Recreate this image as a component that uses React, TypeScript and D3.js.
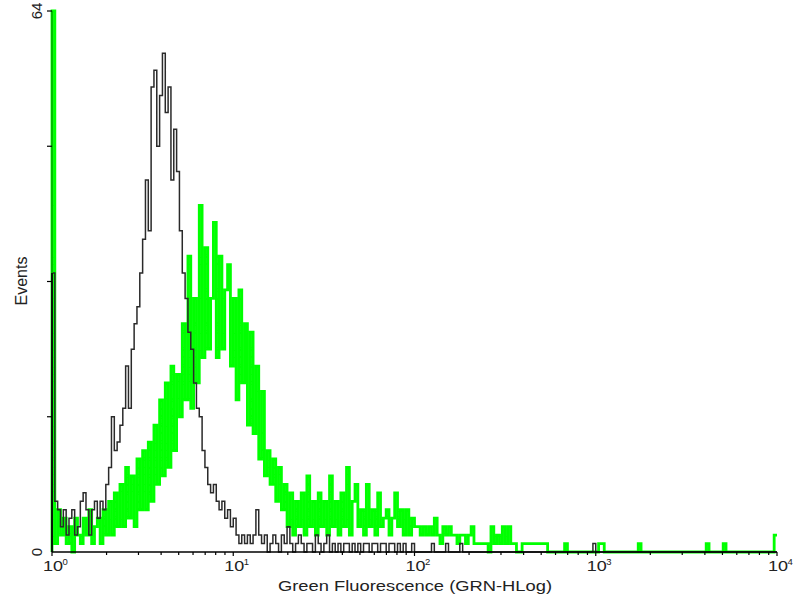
import * as d3 from "d3";

// plot area (pixels)
const plotLeft = 52;
const plotRight = 777;
const plotTop = 11;
const plotBottom = 552;

const nChannels = 256;
const maxEvents = 64;

// events per channel (256 log channels over 4 decades)
const blackCounts = [
  33, 6, 5, 3, 5, 2, 4, 5, 2, 3, 6, 7, 5, 2, 5, 6,
  4, 6, 5, 8, 10, 16, 12, 13, 15, 17, 22, 17, 24, 27, 29, 33,
  37, 44, 38, 55, 57, 48, 54, 59, 52, 55, 44, 50, 45, 38, 33, 30,
  26, 24, 20, 17, 16, 12, 10, 8, 7, 8, 6, 5, 6, 4, 5, 3,
  4, 2, 1, 2, 1, 2, 1, 2, 5, 2, 1, 2, 0, 1, 2, 1,
  0, 2, 1, 3, 1, 0, 1, 2, 1, 0, 1, 1, 0, 2, 1, 0,
  1, 2, 0, 1, 0, 1, 0, 1, 1, 0, 1, 0, 1, 0, 1, 1,
  0, 1, 1, 0, 1, 1, 0, 1, 1, 0, 1, 0, 1, 0, 0, 1,
  0, 0, 0, 0, 0, 0, 1, 0, 0, 0, 0, 1, 0, 0, 0, 0,
  1, 0, 0, 0, 0, 0, 0, 0, 0, 0, 0, 0, 0, 0, 0, 0,
  0, 0, 0, 0, 0, 0, 0, 0, 0, 0, 0, 0, 0, 0, 0, 0,
  0, 0, 0, 0, 0, 0, 0, 0, 0, 0, 0, 0, 0, 0, 0, 1,
  0, 0, 0, 0, 0, 0, 0, 0, 0, 0, 0, 0, 0, 0, 0, 0,
  0, 0, 0, 0, 0, 0, 0, 0, 0, 0, 0, 0, 0, 0, 0, 0,
  0, 0, 0, 0, 0, 0, 0, 0, 0, 0, 0, 0, 0, 0, 0, 0,
  0, 0, 0, 0, 0, 0, 0, 0, 0, 0, 0, 0, 0, 0, 0, 0,
];

const greenCounts = [
  64, 1, 5, 2, 4, 1, 3, 0, 4, 2, 1, 4, 2, 5, 1, 3,
  4, 1, 5, 2, 6, 2, 7, 3, 8, 3, 10, 4, 9, 3, 11, 5,
  12, 5, 13, 6, 15, 8, 18, 9, 20, 10, 22, 12, 21, 16, 27, 18,
  35, 17, 30, 20, 41, 23, 36, 24, 30, 39, 23, 35, 24, 31, 34, 22,
  30, 18, 31, 20, 27, 15, 26, 14, 22, 11, 19, 9, 12, 8, 11, 6,
  10, 5, 8, 3, 7, 2, 6, 3, 7, 2, 9, 3, 6, 2, 7, 3,
  6, 2, 9, 3, 6, 2, 7, 3, 10, 2, 6, 8, 3, 5, 2, 8,
  3, 5, 2, 7, 3, 4, 5, 2, 4, 7, 3, 5, 2, 5, 2, 4,
  3, 3, 2, 3, 2, 3, 2, 4, 2, 1, 3, 2, 3, 2, 2, 1,
  2, 2, 1, 2, 3, 1, 1, 1, 1, 1, 0, 3, 1, 2, 1, 3,
  1, 3, 1, 1, 0, 0, 1, 1, 1, 1, 1, 1, 1, 1, 1, 0,
  0, 0, 0, 0, 0, 1, 0, 0, 0, 0, 0, 0, 0, 0, 0, 0,
  0, 1, 1, 0, 0, 0, 0, 0, 0, 0, 0, 0, 0, 0, 0, 1,
  0, 0, 0, 0, 0, 0, 0, 0, 0, 0, 0, 0, 0, 0, 0, 0,
  0, 0, 0, 0, 0, 0, 0, 1, 0, 0, 0, 0, 0, 1, 0, 0,
  0, 0, 0, 0, 0, 0, 0, 0, 0, 0, 0, 0, 0, 0, 0, 2,
];

const decades = [0, 1, 2, 3, 4];
const yTicks = [16, 32, 48, 64];
const yTickLabels = ["0", "64"];
const xTitle = "Green Fluorescence (GRN-HLog)";
const yTitle = "Events";

const font = "'Liberation Sans', Arial, sans-serif";
const textColor = "#222";

const x = d3.scaleLog().domain([1, 10000]).range([plotLeft, plotRight]);
const y = d3.scaleLinear().domain([0, maxEvents]).range([plotBottom, plotTop]);

const edge = (i: number) => x(Math.pow(10, (4 * i) / nChannels));

function histPath(counts: number[]) {
  const pts: [number, number][] = [[edge(0), y(0)]];
  counts.forEach((c, i) => pts.push([edge(i), y(Math.min(c, maxEvents))]));
  pts.push([edge(counts.length), y(Math.min(counts[counts.length - 1], maxEvents))]);
  return d3.line().curve(d3.curveStepAfter)(pts) || "";
}

// minor ticks 2..9 for every decade
const minorTicks: number[] = [];
decades.slice(0, -1).forEach((d) => {
  for (let m = 2; m <= 9; m++) minorTicks.push(m * Math.pow(10, d));
});

export default function App() {
  return (
    <svg
      width={800}
      height={600}
      style={{ position: "absolute", left: 0, top: 0, background: "#fff" }}
    >
      <rect x={0} y={0} width={800} height={600} fill="#fff" />

      {/* histograms */}
      <path d={histPath(greenCounts)} fill="none" stroke="#00ff00" strokeWidth={2.8} />
      <path d={histPath(blackCounts)} fill="none" stroke="#2a2a2a" strokeWidth={1.5} />

      {/* axes */}
      <line x1={plotLeft} x2={plotLeft} y1={plotTop} y2={plotBottom} stroke="#000" strokeWidth={1.5} />
      <line x1={plotLeft} x2={plotLeft} y1={plotTop} y2={y(blackCounts[0])} stroke="#00e000" strokeWidth={1.6} />
      <line x1={plotLeft} x2={plotRight} y1={plotBottom} y2={plotBottom} stroke="#000" strokeWidth={1.5} />

      {yTicks.map((t) => (
        <line key={"yt" + t} x1={plotLeft - 5} x2={plotLeft} y1={y(t)} y2={y(t)} stroke="#000" strokeWidth={1.2} />
      ))}

      {decades.map((d) => (
        <line key={"xM" + d} x1={x(Math.pow(10, d))} x2={x(Math.pow(10, d))} y1={plotBottom} y2={plotBottom + 4} stroke="#000" strokeWidth={1.2} />
      ))}
      {minorTicks.map((t) => (
        <line key={"xm" + t} x1={x(t)} x2={x(t)} y1={plotBottom} y2={plotBottom + 3} stroke="#000" strokeWidth={1.2} />
      ))}

      {/* x tick labels */}
      {decades.map((d) => {
        const tx = x(Math.pow(10, d));
        return (
          <g key={"xl" + d} fill={textColor} fontFamily={font}>
            <text transform={`translate(${tx + 1},571) scale(1.2,1)`} textAnchor="middle" fontSize={15}>
              10
            </text>
            <text x={tx + 10.5} y={565} fontSize={9.5}>
              {d}
            </text>
          </g>
        );
      })}

      {/* y tick labels */}
      <text
        transform={`translate(42,${y(0)}) rotate(-90)`}
        textAnchor="middle"
        fontSize={15}
        fontFamily={font}
        fill={textColor}
      >
        {yTickLabels[0]}
      </text>
      <text
        transform={`translate(42,${y(maxEvents)}) rotate(-90)`}
        textAnchor="middle"
        fontSize={15}
        fontFamily={font}
        fill={textColor}
      >
        {yTickLabels[1]}
      </text>

      {/* titles */}
      <text
        x={415}
        y={591}
        textAnchor="middle"
        fontSize={15}
        fontFamily={font}
        fill={textColor}
        textLength={274}
        lengthAdjust="spacingAndGlyphs"
      >
        {xTitle}
      </text>
      <text
        transform="translate(27,281) rotate(-90)"
        textAnchor="middle"
        fontSize={16}
        fontFamily={font}
        fill={textColor}
      >
        {yTitle}
      </text>
    </svg>
  );
}
